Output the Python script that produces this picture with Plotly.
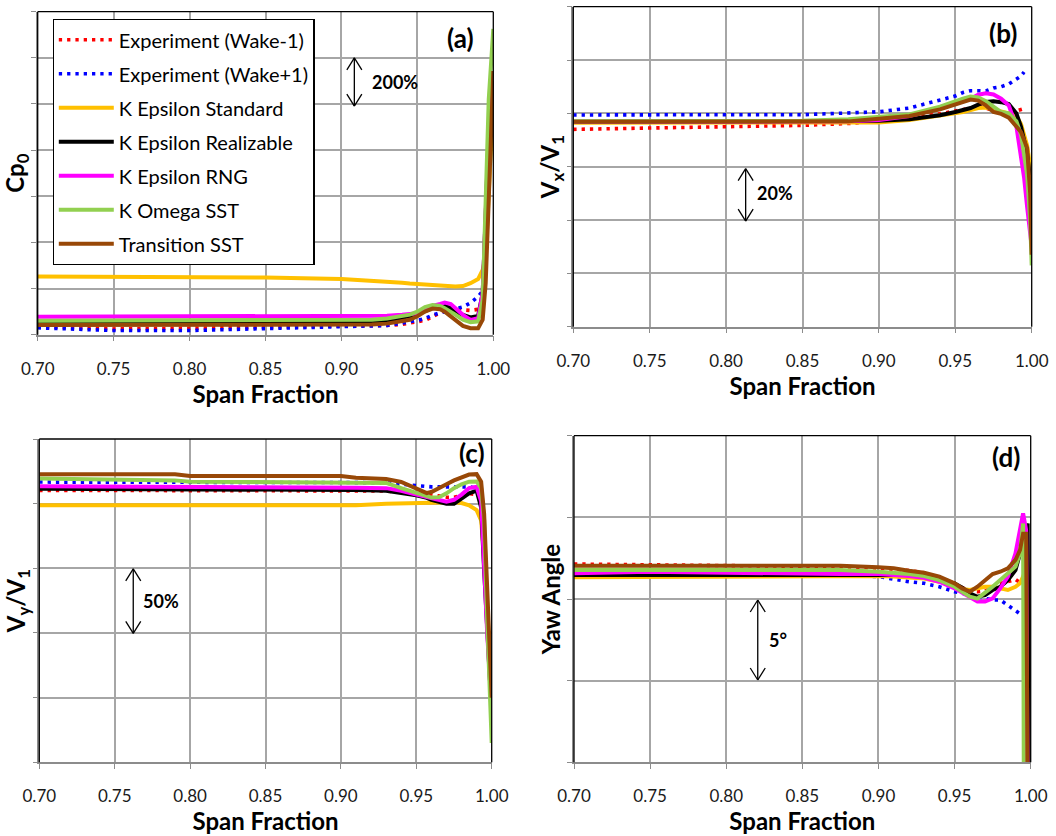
import plotly.graph_objects as go

W, H = 1056, 836
FONT = "Lato"

series_names = ["Experiment (Wake-1)", "Experiment (Wake+1)", "K Epsilon Standard",
                "K Epsilon Realizable", "K Epsilon RNG", "K Omega SST", "Transition SST"]
series_colors = ["#ff0000", "#0000ff", "#ffc000", "#000000", "#ff00ff", "#92d050", "#984807"]

# ---------------- (a) Cp0 ----------------
span_a = [0.70, 0.75, 0.80, 0.85, 0.90, 0.92, 0.93, 0.94, 0.945, 0.95, 0.955, 0.96, 0.965,
          0.968, 0.972, 0.975, 0.98, 0.985, 0.99, 0.993, 0.995, 0.997, 1.00]
cp0_wake_m1 = [-1.65, -1.75, -1.72, -1.68, -1.65, -1.62, -1.6, -1.55, -1.5, -1.45, -1.38, -1.22, -1.05,
               -0.95, -0.88, -0.88, -0.92, -0.95, -0.9, -0.8, None, None, None]
cp0_wake_p1 = [-1.7, -1.82, -1.82, -1.75, -1.68, -1.62, -1.6, -1.5, -1.45, -1.38, -1.3, -1.15, -1.05,
               -1.0, -0.95, -0.92, -0.8, -0.62, -0.35, -0.1, 0.1, None, None]
cp0_ke_std = [0.52, 0.52, 0.52, 0.48, 0.41, 0.35, 0.30, 0.25, 0.22, 0.20, 0.16, 0.13, 0.10,
              0.09, 0.09, 0.09, 0.11, 0.23, 0.41, 0.81, 1.39, 3.9, 8.2]
cp0_ke_real = [-1.48, -1.48, -1.48, -1.48, -1.48, -1.45, -1.4, -1.25, -1.2, -1.13, -0.98, -0.84, -0.75,
               -0.75, -0.85, -1.0, -1.14, -1.25, -1.19, -0.2, 3.2, 6.8, 9.0]
cp0_ke_rng = [-1.22, -1.22, -1.22, -1.22, -1.22, -1.2, -1.18, -1.14, -1.12, -1.07, -0.93, -0.75, -0.67,
              -0.61, -0.67, -0.86, -1.14, -1.36, -1.29, -0.2, 3.2, 6.8, 9.0]
cp0_ko_sst = [-1.39, -1.39, -1.39, -1.39, -1.39, -1.35, -1.3, -1.2, -1.13, -1.0, -0.8, -0.71, -0.75,
              -0.85, -1.0, -1.13, -1.35, -1.46, -1.42, -0.49, 3.86, 8.2, 11.25]
cp0_trans_sst = [-1.58, -1.58, -1.58, -1.58, -1.58, -1.56, -1.52, -1.42, -1.35, -1.2, -1.0, -0.87, -0.9,
                 -1.0, -1.2, -1.38, -1.62, -1.72, -1.72, -1.35, 0.25, 3.86, 9.43]

# ---------------- (b) Vx/V1 ----------------
span_b = [0.70, 0.75, 0.80, 0.85, 0.88, 0.90, 0.92, 0.94, 0.95, 0.955, 0.96, 0.965, 0.97,
          0.975, 0.98, 0.985, 0.99, 0.993, 0.995, 0.997, 0.999, 1.00]
vx_wake_m1 = [0.94, 0.946, 0.952, 0.955, 0.962, 0.971, 0.984, 0.998, 1.009, 1.015, 1.02, 1.025, 1.02,
              1.01, 1.0, 1.0, 1.008, 1.012, 1.018, None, None, None]
vx_wake_p1 = [0.994, 0.996, 0.995, 0.995, 1.0, 1.006, 1.02, 1.05, 1.065, 1.078, 1.085, 1.085, 1.084,
              1.095, 1.1, 1.11, 1.13, 1.14, 1.155, None, None, None]
vx_ke_std = [0.965, 0.965, 0.965, 0.965, 0.965, 0.966, 0.975, 0.99, 1.0, 1.005, 1.012, 1.02, 1.022,
             1.015, 1.008, 1.0, 0.99, 0.96, 0.92, 0.88, 0.8, 0.62]
vx_ke_real = [0.969, 0.969, 0.969, 0.969, 0.969, 0.972, 0.978, 0.993, 1.005, 1.012, 1.02, 1.033, 1.043,
              1.045, 1.042, 1.035, 1.0, 0.95, 0.9, 0.85, 0.75, 0.6]
vx_ke_rng = [0.969, 0.969, 0.969, 0.969, 0.97, 0.975, 0.99, 1.02, 1.035, 1.045, 1.055, 1.07, 1.075,
             1.071, 1.055, 1.03, 0.95, 0.84, 0.76, 0.65, 0.55, 0.5]
vx_ko_sst = [0.97, 0.97, 0.971, 0.972, 0.978, 0.986, 0.996, 1.025, 1.046, 1.055, 1.063, 1.06, 1.046,
             1.025, 1.005, 1.0, 0.97, 0.92, 0.85, 0.77, 0.6, 0.43]
vx_trans_sst = [0.969, 0.969, 0.969, 0.969, 0.97, 0.98, 0.99, 1.015, 1.035, 1.045, 1.052, 1.048, 1.03,
                1.005, 0.998, 0.984, 0.95, 0.93, 0.9, 0.87, 0.7, 0.47]

# ---------------- (c) Vy/V1 ----------------
span_c = [0.70, 0.75, 0.79, 0.80, 0.85, 0.90, 0.91, 0.93, 0.94, 0.95, 0.957, 0.96, 0.965, 0.97,
          0.975, 0.98, 0.985, 0.99, 0.993, 0.995, 0.997, 0.999, 1.00]
vy_wake_m1 = [1.103, 1.103, 1.103, 1.103, 1.103, 1.103, 1.10, 1.098, 1.09, 1.08, 1.07, 1.065, 1.06, 1.05,
              1.05, 1.06, 1.078, 1.07, None, None, None, None, None]
vy_wake_p1 = [1.167, 1.167, 1.167, 1.166, 1.166, 1.165, 1.163, 1.16, 1.15, 1.14, 1.13, 1.13, 1.13, 1.13,
              1.13, 1.13, 1.13, 1.12, None, None, None, None, None]
vy_ke_std = [0.987, 0.987, 0.987, 0.987, 0.987, 0.987, 0.988, 1.0, 1.002, 1.005, 1.007, 1.008, 1.01, 1.01,
             1.01, 1.005, 0.987, 0.95, 0.87, 0.6, 0.2, -0.3, -0.5]
vy_ke_real = [1.116, 1.115, 1.114, 1.113, 1.112, 1.11, 1.105, 1.10, 1.085, 1.065, 1.045, 1.03, 1.015, 1.0,
              1.0, 1.04, 1.08, 1.10, 0.97, 0.48, 0.0, -0.4, -0.5]
vy_ke_rng = [1.134, 1.133, 1.131, 1.13, 1.128, 1.125, 1.123, 1.12, 1.1, 1.07, 1.05, 1.047, 1.03, 1.015,
             1.03, 1.07, 1.12, 1.13, 1.02, 0.48, 0.0, -0.4, -0.5]
vy_ko_sst = [1.194, 1.19, 1.18, 1.17, 1.168, 1.165, 1.163, 1.16, 1.12, 1.08, 1.055, 1.047, 1.05, 1.08,
             1.12, 1.15, 1.17, 1.172, 1.12, 0.87, 0.1, -0.6, -0.85]
vy_trans_sst = [1.227, 1.227, 1.227, 1.214, 1.214, 1.214, 1.20, 1.19, 1.168, 1.116, 1.082, 1.09, 1.116, 1.15,
                1.18, 1.206, 1.225, 1.228, 1.17, 0.92, 0.35, -0.1, -0.5]

# ---------------- (d) Yaw angle ----------------
span_d = [0.70, 0.75, 0.80, 0.85, 0.875, 0.90, 0.91, 0.92, 0.93, 0.94, 0.95, 0.955, 0.96, 0.965,
          0.97, 0.975, 0.98, 0.985, 0.99, 0.993, 0.995, 0.9955, 0.997, 0.998, 0.999, 1.00]
yaw_wake_m1 = [2.14, 2.1, 2.05, 2.0, 1.98, 1.9, 1.85, 1.75, 1.6, 1.3, 0.9, 0.7, 0.5, 0.45,
               0.5, 0.7, 0.96, 1.06, 1.2, 1.0, None, None, None, None, None, None]
yaw_wake_p1 = [1.47, 1.47, 1.47, 1.47, 1.45, 1.37, 1.2, 1.06, 0.96, 0.75, 0.45, 0.35, 0.24, 0.14,
               0.04, -0.06, -0.06, -0.37, -0.67, -0.88, -1.04, None, None, None, None, None]
yaw_ke_std = [1.33, 1.35, 1.41, 1.41, 1.41, 1.41, 1.38, 1.33, 1.25, 1.06, 0.75, 0.62, 0.55, 0.65,
              0.75, 0.75, 0.65, 0.55, 0.75, 0.96, 1.37, 1.5, -12, -12, -12, -12]
yaw_ke_real = [1.47, 1.47, 1.47, 1.5, 1.5, 1.53, 1.5, 1.47, 1.4, 1.2, 0.96, 0.7, 0.35, 0.14,
               0.24, 0.55, 0.75, 1.16, 1.77, 2.8, 3.6, 3.8, 4.2, 4.63, -12, -12]
yaw_ke_rng = [1.57, 1.67, 1.61, 1.53, 1.53, 1.53, 1.5, 1.41, 1.3, 1.06, 0.65, 0.4, 0.14, -0.16,
              -0.16, 0.04, 0.65, 1.37, 2.8, 4.43, 5.24, 5.0, 4.22, -12, -12, -12]
yaw_ko_sst = [1.77, 1.77, 1.77, 1.77, 1.77, 1.67, 1.62, 1.53, 1.4, 1.16, 0.75, 0.45, 0.14, 0.02,
              0.35, 0.75, 1.16, 1.57, 1.98, 2.8, 4.63, -12, -12, -12, -12, -12]
yaw_trans_sst = [2.04, 2.04, 2.04, 2.04, 2.04, 1.94, 1.88, 1.73, 1.61, 1.37, 0.96, 0.65, 0.45, 0.75,
                 1.16, 1.53, 1.67, 1.88, 2.39, 3.0, 4.0, 4.0, 4.0, -12, -12, -12]

panels = [
    dict(x=span_a, ys=[cp0_wake_m1, cp0_wake_p1, cp0_ke_std, cp0_ke_real, cp0_ke_rng, cp0_ko_sst, cp0_trans_sst],
         xa="x", ya="y", yrange=[-2, 12], dtick=2, title="Cp<sub>0</sub>", label="(a)",
         px=(37.7, 493.3, 11.7, 334.7), arrow=(0.9085, 10.0, 7.91), atext="200%", tpos=(0.9353, 8.94),
         lpos=(0.927, 0.918)),
    dict(x=span_b, ys=[vx_wake_m1, vx_wake_p1, vx_ke_std, vx_ke_real, vx_ke_rng, vx_ko_sst, vx_trans_sst],
         xa="x2", ya="y2", yrange=[0.2, 1.4], dtick=0.2, title="V<sub>x</sub>/V<sub>1</sub>", label="(b)",
         px=(573.3, 1031.7, 6.7, 326.7), arrow=(0.8128, 0.7925, 0.596), atext="20%", tpos=(0.832, 0.70),
         lpos=(0.937, 0.918)),
    dict(x=span_c, ys=[vy_wake_m1, vy_wake_p1, vy_ke_std, vy_ke_real, vy_ke_rng, vy_ko_sst, vy_trans_sst],
         xa="x3", ya="y3", yrange=[-1.0, 1.5], dtick=0.5, title="V<sub>y</sub>/V<sub>1</sub>", label="(c)",
         px=(39.3, 491.7, 439.0, 762.3), arrow=(0.7623, 0.496, -0.003), atext="50%", tpos=(0.781, 0.245),
         lpos=(0.956, 0.957)),
    dict(x=span_d, ys=[yaw_wake_m1, yaw_wake_p1, yaw_ke_std, yaw_ke_real, yaw_ke_rng, yaw_ko_sst, yaw_trans_sst],
         xa="x4", ya="y4", yrange=[-10, 10], dtick=5, title="Yaw Angle", label="(d)",
         px=(574.0, 1030.7, 435.7, 762.3), arrow=(0.8207, -0.06, -4.96), atext="5°", tpos=(0.834, -2.5),
         lpos=(0.947, 0.936)),
]

fig = go.Figure()
shapes = []
annotations = []
layout = {}

for pi, p in enumerate(panels):
    for si in range(7):
        is_exp = si < 2
        fig.add_trace(go.Scatter(
            x=p["x"], y=p["ys"][si], mode="lines", name=series_names[si],
            legendgroup=series_names[si], showlegend=(pi == 0),
            xaxis=p["xa"], yaxis=p["ya"], connectgaps=False,
            line=dict(color=series_colors[si], width=3.6 if is_exp else 4,
                      dash="3.3px,5px" if is_exp else "solid"),
            hoverinfo="skip"))
    l, r, t, b = p["px"]
    xkey = "xaxis" if p["xa"] == "x" else "xaxis" + p["xa"][1:]
    ykey = "yaxis" if p["ya"] == "y" else "yaxis" + p["ya"][1:]
    layout[xkey] = dict(
        domain=[l / W, r / W], anchor=p["ya"], range=[0.70, 1.00], dtick=0.05, tick0=0.70,
        tickformat=".2f", showgrid=True, gridcolor="#a6a6a6", gridwidth=1.5, automargin=False,
        showline=True, linecolor="#8c8c8c", linewidth=1.5, ticks="outside", ticklen=5,
        tickcolor="#8c8c8c", tickfont=dict(family=FONT, size=17, color="#1a1a1a"),
        ticklabelstandoff=13, zeroline=False, fixedrange=True,
        title=dict(text="<b>Span Fraction</b>", font=dict(family=FONT, size=24, color="black"), standoff=4))
    layout[ykey] = dict(
        domain=[1 - b / H, 1 - t / H], anchor=p["xa"], range=p["yrange"], dtick=p["dtick"], tick0=0,
        showticklabels=False, showgrid=True, gridcolor="#a6a6a6", gridwidth=1.5, automargin=False,
        showline=True, linecolor="#8c8c8c", linewidth=1.5, ticks="outside", ticklen=5,
        tickcolor="#8c8c8c", zeroline=False, fixedrange=True,
        title=dict(text="<b>" + p["title"] + "</b>", font=dict(family=FONT, size=24, color="black"), standoff=0))

    # plot-area border (left / top / right)
    xd = p["xa"] + " domain"
    yd = p["ya"] + " domain"
    for (x0, y0, x1, y1) in [(0, 0, 0, 1), (0, 1, 1, 1), (1, 1, 1, 0)]:
        shapes.append(dict(type="line", xref=xd, yref=yd, x0=x0, y0=y0, x1=x1, y1=y1,
                           line=dict(color="black", width=1.3)))

    # double-headed arrow
    ax, ay0, ay1 = p["arrow"]
    ppx = (r - l) / 0.30
    ppy = (b - t) / (p["yrange"][1] - p["yrange"][0])
    hw = 7.5 / ppx
    hh = 12.0 / ppy
    sgn = 1 if ay0 > ay1 else -1
    shapes.append(dict(type="line", xref=p["xa"], yref=p["ya"], x0=ax, x1=ax, y0=ay0, y1=ay1,
                       line=dict(color="black", width=1.3)))
    for (yt, s) in [(ay0, -sgn), (ay1, sgn)]:
        shapes.append(dict(type="line", xref=p["xa"], yref=p["ya"], x0=ax - hw, y0=yt + s * hh,
                           x1=ax, y1=yt, line=dict(color="black", width=1.3)))
        shapes.append(dict(type="line", xref=p["xa"], yref=p["ya"], x0=ax + hw, y0=yt + s * hh,
                           x1=ax, y1=yt, line=dict(color="black", width=1.3)))
    annotations.append(dict(x=p["tpos"][0], y=p["tpos"][1], xref=p["xa"], yref=p["ya"],
                            xanchor="center", yanchor="middle",
                            text="<b>" + p["atext"] + "</b>", showarrow=False,
                            font=dict(family=FONT, size=18, color="black")))
    annotations.append(dict(x=p["lpos"][0], y=p["lpos"][1], xref=xd, yref=yd,
                            xanchor="center", yanchor="middle",
                            text="<b>" + p["label"] + "</b>", showarrow=False,
                            font=dict(family=FONT, size=26, color="black")))

fig.update_layout(
    width=W, height=H, margin=dict(l=0, r=0, t=0, b=0, autoexpand=False),
    paper_bgcolor="white", plot_bgcolor="white",
    font=dict(family=FONT, color="black"),
    shapes=shapes, annotations=annotations,
    legend=dict(x=52.5 / W, y=1 - 19 / H, xanchor="left", yanchor="top",
                bgcolor="white", bordercolor="black", borderwidth=1.3,
                font=dict(family=FONT, size=20, color="black"),
                itemwidth=55, tracegroupgap=5, traceorder="grouped"),
    **layout)

fig.write_html("out.html", config={"displayModeBar": False},
               post_script="document.body.style.margin='0';document.body.style.padding='0';")
